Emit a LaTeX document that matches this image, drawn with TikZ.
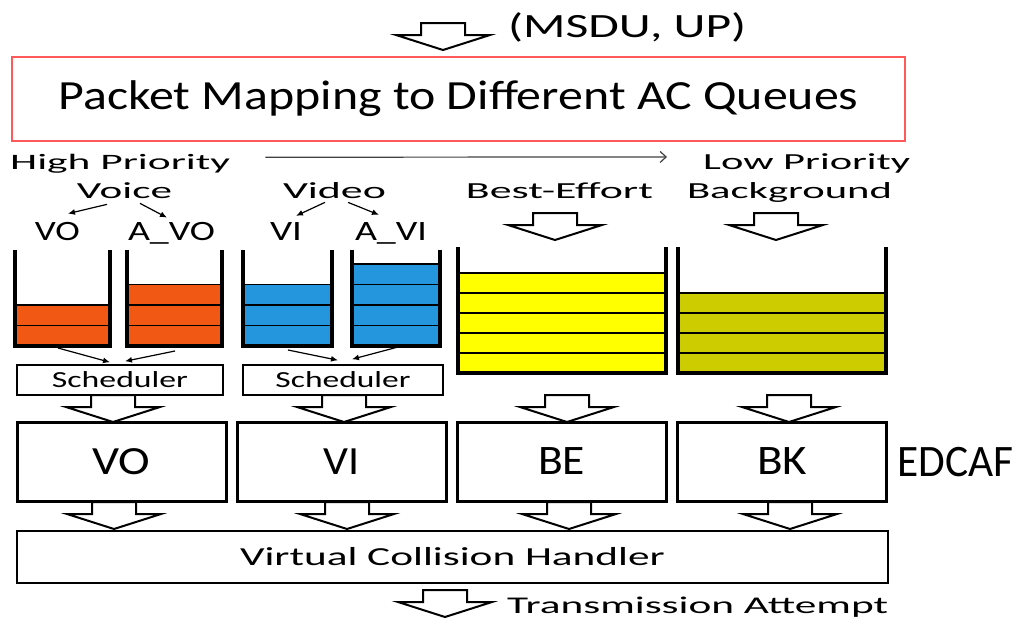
\documentclass[tikz,border=0pt]{standalone}
\usepackage{fontspec}
\setmainfont{Carlito}
\usetikzlibrary{arrows.meta,calc}

\definecolor{vocol}{RGB}{240,88,20}
\definecolor{vicol}{RGB}{35,150,222}
\definecolor{becol}{RGB}{255,255,0}
\definecolor{bkcol}{RGB}{204,204,0}
\definecolor{boxred}{RGB}{255,90,90}

% text stretched to a given width (pt), font size (pt)
\newcommand{\fitw}[3]{\resizebox{#1pt}{\height}{\fontsize{#2pt}{#2pt}\selectfont #3}}

\tikzset{
  lbl/.style={inner sep=0pt, anchor=base},
  box/.style={draw, line width=3pt, minimum width=209pt, minimum height=79pt, inner sep=0pt},
  schbox/.style={draw, line width=1.5pt, minimum height=30pt, inner sep=0pt},
  thinarrow/.style={-{Latex[length=7pt,width=6pt]}, line width=1.2pt},
  prio/.style={-{Straight Barb[length=6pt,width=11pt]}, line width=1.2pt, black!75},
  blockarrow/.pic={
    \draw[line width=2pt, fill=white]
      (-22,0) -- (22,0) -- (22,12) -- (47,12) -- (0,27) -- (-47,12) -- (-22,12) -- cycle;
  }
}

\begin{document}
\begin{tikzpicture}[x=1pt,y=-1pt]
\useasboundingbox (0,0) rectangle (1021,619);

% input
\node[lbl, anchor=base west] (msdu) at (508,37) {\fitw{238}{34}{(MSDU, UP)}};
\node[draw=boxred, line width=2pt, minimum width=893pt, minimum height=84pt, inner sep=0pt] (pkt) at (458.5,99)
  {\fitw{800}{41.5}{Packet Mapping to Different AC Queues}};

% priority
\node[lbl, anchor=base west] (high) at (10,169) {\fitw{220}{22}{High Priority}};
\node[lbl, anchor=base west] (low) at (703,169) {\fitw{207}{23}{Low Priority}};
\draw[prio] ($(high.east)+(35,-6)$) -- ($(low.west)+(-36,-6)$);

% access categories
\node[lbl] (voice) at (124.5,198) {\fitw{95}{23}{Voice}};
\node[lbl] (video) at (334.5,198) {\fitw{103}{23}{Video}};
\node[lbl] (be) at (559.5,198) {\fitw{187}{23}{Best-Effort}};
\node[lbl] (bk) at (789.5,198) {\fitw{205}{23}{Background}};

\node[lbl] (vo) at (57.5,240) {\fitw{45}{28}{VO}};
\node[lbl] (avo) at (171.5,240) {\fitw{87}{28}{A\_VO}};
\node[lbl] (vi) at (286,240) {\fitw{32}{28}{VI}};
\node[lbl] (avi) at (391,240) {\fitw{72}{28}{A\_VI}};

\draw[thinarrow] ($(voice.south)+(-17.5,6)$) -- ($(vo.north)+(10.5,-8)$);
\draw[thinarrow] ($(voice.south)+(15.5,5)$) -- ($(avo.north)+(-4.5,-4)$);
\draw[thinarrow] ($(video.south)+(-9.5,4)$) -- ($(vi.north)+(10,-6)$);
\draw[thinarrow] ($(video.south)+(13.5,4)$) -- ($(avi.north)+(-12,-7)$);

% queues
\foreach \xa/\xb/\yt/\yb/\ns/\sh/\qc/\nm in {15/110/250/346/2/20.5/vocol/qvo, 127/222/250/346/3/20.5/vocol/qavo,
    243/332/250/346/3/20.5/vicol/qvi, 352/440/250/346/4/20.5/vicol/qavi,
    458/666/247/373/5/20/becol/qbe, 678/886/247/373/4/20/bkcol/qbk}{
  \fill[\qc] (\xa,\yb) rectangle (\xb,\yb-\ns*\sh);
  \foreach \k in {1,...,\ns}
    \draw[line width=1.8pt] (\xa,\yb-\k*\sh) -- (\xb,\yb-\k*\sh);
  \draw[line width=3.5pt] (\xa,\yt) -- (\xa,\yb) -- (\xb,\yb) -- (\xb,\yt);
  \coordinate (\nm) at ({(\xa+\xb)/2},\yb);
}

% schedulers
\node[schbox, minimum width=206pt] (sch1) at (120,380) {\fitw{136}{23}{Scheduler}};
\node[schbox, minimum width=200pt] (sch2) at (343,380) {\fitw{135}{23}{Scheduler}};
\draw[thinarrow] ($(qvo)+(-4.5,2)$) -- ($(sch1.north)+(-10,-2)$);
\draw[thinarrow] ($(qavo)+(0.5,5)$) -- ($(sch1.north)+(5,-3)$);
\draw[thinarrow] ($(qvi)+(0.5,4)$) -- ($(sch2.north)+(-5,-4)$);
\draw[thinarrow] ($(qavi)+(2,1)$) -- ($(sch2.north)+(9,-5)$);

% EDCAF
\node[box] (evo) at (121.5,461.5) {\fitw{58}{40}{VO}};
\node[box] (evi) at (341.5,461.5) {\fitw{36}{40}{VI}};
\node[box] (ebe) at (561.5,461.5) {\fitw{47}{42}{BE}};
\node[box] (ebk) at (782,461.5) {\fitw{50}{42}{BK}};
\node[lbl, anchor=base west] (edcaf) at (897,476) {\fitw{116}{45}{EDCAF}};

\node[draw, line width=2.5pt, minimum width=871pt, minimum height=52pt, inner sep=0pt] (vch) at (452.5,557)
  {\fitw{425}{26}{Virtual Collision Handler}};
\node[lbl, anchor=base west] (tx) at (507,613) {\fitw{381}{24}{Transmission Attempt}};

% block arrows
\foreach \x/\y in {443/23, 555/213, 776/213, 113/395, 344/395, 567/395, 789/395,
    114/502, 347/502, 569/502, 790/502, 445/590}
  \pic at (\x,\y) {blockarrow};
\end{tikzpicture}
\end{document}
